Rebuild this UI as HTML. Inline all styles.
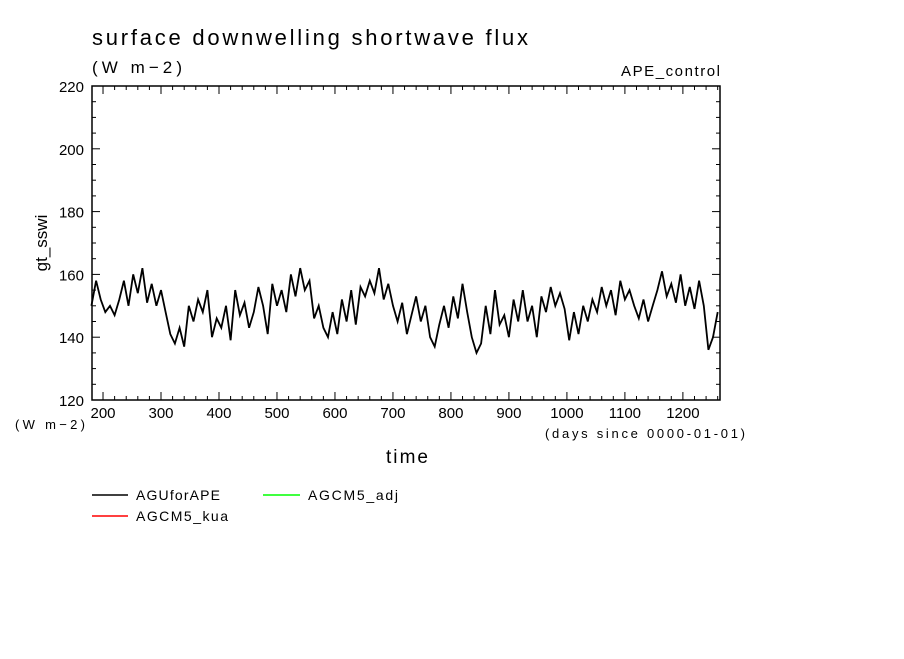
<!DOCTYPE html>
<html><head><meta charset="utf-8"><style>
body{margin:0;background:#fff}
svg text{font-family:"Liberation Sans",sans-serif;fill:#000}
</style></head><body>
<svg id="c" width="904" height="654" xmlns="http://www.w3.org/2000/svg">
<rect width="904" height="654" fill="#fff"/>
<text x="92" y="45" font-size="22" textLength="436" lengthAdjust="spacing">surface downwelling shortwave flux</text>
<text x="92" y="73" font-size="17" textLength="90" lengthAdjust="spacing">(W m−2)</text>
<text x="621" y="76" font-size="15" textLength="99" lengthAdjust="spacing">APE_control</text>
<text transform="translate(47,243) rotate(-90)" font-size="17" text-anchor="middle">gt_sswi</text>
<text x="15" y="429" font-size="13" textLength="70" lengthAdjust="spacing">(W m−2)</text>
<text x="545" y="438" font-size="13" textLength="200" lengthAdjust="spacing">(days since 0000-01-01)</text>
<text x="386" y="463" font-size="19" textLength="42" lengthAdjust="spacing">time</text>
<g id="axes"></g>
<g id="series"></g>
<rect x="92" y="86" width="628" height="314" fill="none" stroke="#000" stroke-width="1.5"/>
<g>
<line x1="92" y1="495" x2="128" y2="495" stroke="#000" stroke-width="1.5"/>
<text x="136" y="500" font-size="14" textLength="84" lengthAdjust="spacing">AGUforAPE</text>
<line x1="92" y1="516" x2="128" y2="516" stroke="#f00" stroke-width="1.5"/>
<text x="136" y="521" font-size="14" textLength="92" lengthAdjust="spacing">AGCM5_kua</text>
<line x1="263" y1="495" x2="300" y2="495" stroke="#0f0" stroke-width="1.5"/>
<text x="308" y="500" font-size="14" textLength="90" lengthAdjust="spacing">AGCM5_adj</text>
</g>
</svg>
<script>
const dayStart = 180;
const dayStep = 8;
const fluxValues = [150,158,152,148,150,147,152,158,150,160,154,162,151,157,150,155,148,141,138,143,137,150,145,152,148,155,140,146,143,150,139,155,147,151,143,148,156,150,141,157,150,155,148,160,153,162,155,158,146,150,143,140,148,141,152,145,155,144,156,153,158,154,162,152,157,150,145,151,141,147,153,145,150,140,137,144,150,143,153,146,157,148,140,135,138,150,141,155,144,147,140,152,145,155,145,150,140,153,148,156,150,154,149,139,148,141,150,145,152,148,156,150,155,147,158,152,155,150,146,152,145,150,155,161,153,157,151,160,150,156,149,158,150,136,140,148];
const yTicks = [120,140,160,180,200,220];
const xTicks = [200,300,400,500,600,700,800,900,1000,1100,1200];
const xMin = 181, xMax = 1264, yMin = 120, yMax = 220;
const L = 92, R = 720, T = 86, B = 400;
const NS = "http://www.w3.org/2000/svg";
const xs = d => L + (d - xMin) / (xMax - xMin) * (R - L);
const ys = v => B - (v - yMin) / (yMax - yMin) * (B - T);
const axes = document.getElementById('axes');
function mk(tag, attrs, parent){const e=document.createElementNS(NS,tag);for(const k in attrs)e.setAttribute(k,attrs[k]);parent.appendChild(e);return e;}
for (let v = yMin; v <= yMax; v += 5) {
  const major = (v % 20 === 0), len = major ? 8 : 4;
  const t1 = mk('line',{x1:L,x2:L+len,y1:ys(v),y2:ys(v),stroke:'#000'},axes);
  
  
  const t2 = mk('line',{x1:R,x2:R-len,y1:ys(v),y2:ys(v),stroke:'#000'},axes);
  
  
}
yTicks.forEach(v=>{
  const t = mk('text',{x:84,y:ys(v)+6,'font-size':15,'text-anchor':'end'},axes);
  t.textContent = v;
  
  
});
for (let d = 200; d <= 1260; d += 20) {
  const major = (d % 100 === 0), len = major ? 8 : 4;
  const t1 = mk('line',{x1:xs(d),x2:xs(d),y1:B,y2:B-len,stroke:'#000'},axes);
  
  
  const t2 = mk('line',{x1:xs(d),x2:xs(d),y1:T,y2:T+len,stroke:'#000'},axes);
  
  
}
xTicks.forEach(d=>{
  const t = mk('text',{x:xs(d),y:418,'font-size':15,'text-anchor':'middle'},axes);
  t.textContent = d;
  
  
});
const pts = fluxValues.map((v,i)=>xs(dayStart+i*dayStep).toFixed(1)+','+ys(v).toFixed(1)).join(' ');
const line = mk('polyline',{points:pts,fill:'none',stroke:'#000','stroke-width':1.8,'stroke-linejoin':'miter'},document.getElementById('series'));


</script>
</body></html>
